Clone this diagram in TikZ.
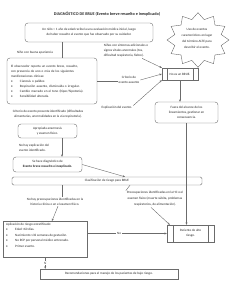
\documentclass[tikz,border=0pt]{standalone}
\usepackage{fontspec}
\setmainfont{Carlito}
\usetikzlibrary{arrows.meta}
\definecolor{linec}{gray}{0.42}
\newcommand{\fnt}{\fontsize{3.3}{5}\selectfont}
\newcommand{\bul}{\makebox[9pt][l]{\textbullet}}
\begin{document}
\begin{tikzpicture}[x=1pt,y=-1pt,
 every node/.style={font=\fnt, inner sep=0.8pt, text=black!85},
 rbox/.style={draw=linec, rounded corners=3pt, align=center, line width=0.4pt},
 sbox/.style={draw=linec, align=center, line width=0.4pt},
 lbl/.style={align=center},
 con/.style={draw=linec, line width=0.4pt},
 arr/.style={con, -{Stealth[length=2.4pt,width=2pt]}}]
\useasboundingbox (0,0) rectangle (233,300);
\coordinate (x62) at (62,0);
\coordinate (xa) at (125,0);
\coordinate (xb) at (52,0);
\coordinate (xc) at (130,0);
% title
\node[font=\fontsize{4.2}{5}\selectfont\bfseries] (title) at (107,14) {DIAGNÓSTICO DE BRUE (Evento breve resuelto e inexplicado)};
% box 1
\node[rbox, minimum width=128, minimum height=19] (b1) at (89,32.5) {Un niño < 1 año de edad recibe la una evaluación médica inicial, luego\\de haber resuelto el evento que fue observado por su cuidador.};
% star
\draw[con] plot[samples at={0,...,23}, variable=\t] ({198+(27.5+3.5*cos(180*\t))*cos(90+15*\t)}, {40+0.88*(27.5+3.5*cos(180*\t))*sin(90+15*\t)}) -- cycle;
\node[lbl, font=\fontsize{3.3}{6}\selectfont] (star) at (197,38.5) {Uso de eventos\\característicos en lugar\\del término ALTE para\\describir el evento.};
% labels top
\node[lbl] (nbuena) at (35,53) {Niño con buena apariencia};
\node[lbl, align=left] (nsint) at (126,51) {Niños con síntomas adicionales o\\signos vitales anormales (tos,\\dificultad respiratoria, fiebre).};
% box 2
\node[rbox, align=left, text width=82pt, inner xsep=4pt, minimum height=46] (b2) at (52,81) {El observador reporta un evento breve, resuelto,\\con presencia de uno o más de los siguientes\\manifestaciones clínicas:\\
\bul Cianosis o palidez.\\
\bul Respiración ausente, disminuida o irregular.\\
\bul Cambio marcado en el tono (hiper/hipotonía).\\
\bul Sensibilidad alterada.};
\draw[con] (b1.south -| x62) -- (b2.north -| x62);
% no es un BRUE
\node[sbox, minimum width=36, minimum height=12] (nob) at (180,74) {No es un BRUE.};
\node[lbl] (aus) at (129,80) {Criterio de\\evento ausente};
\node[lbl] (expl) at (117,108) {Explicación del evento.};
\draw[con] (b2.east) -- (b2.east -| aus.west);
\draw[arr] ([xshift=-7pt]nsint.south east) -- (nob.north west);
\draw[arr] (aus.east) -- (nob.west);
\draw[arr] (expl.north east) -- (nob.south west);
% fuera
\node[rbox, minimum width=63, minimum height=21] (fuera) at (186.5,112.5) {Fuera del alcance de los\\lineamientos, gestionar en\\consecuencia.};
\draw[arr] (nob.south) -- (nob.south |- fuera.north);
% presente
\node[lbl] (pres) at (48,114.5) {Criterio de evento presente identificado (dificultades\\alimentarias, anormalidades en la vía respiratoria).};
\node[rbox, minimum width=59, minimum height=14] (apro) at (47.5,131) {Apropiada anamnesis\\y examen físico.};
\node[lbl, align=left] (noexp) at (34,147.5) {No hay explicación del\\evento identificado.};
\node[rbox, minimum width=69, minimum height=15] (se) at (47.5,164.5) {Se hace diagnóstico de\\\textbf{Evento breve resuelto e inexplicado.}};
\draw[arr] (apro.south -| x62) -- (se.north -| x62);
% clasificacion
\node[rbox, rounded corners=1.5pt, minimum width=190, minimum height=8] (clas) at (107,181) {Clasificación de riesgo para BRUE};
\draw[arr] (se.east) -- (clas.north -| xa);
% paciente alto riesgo
\node[sbox, minimum width=47, minimum height=17] (pac) at (190.5,233.5) {Paciente de alto\\riesgo.};
\draw[arr] (fuera.south) -- (fuera.south |- pac.north);
\node[lbl] (nopre) at (55,201.5) {No hay preocupaciones identificadas en la\\historia clínica o en el examen físico.};
\node[lbl, font=\fontsize{3.3}{6}\selectfont] (pre) at (155,199) {Preocupaciones identificadas en la HC o el\\examen físico (muerte súbita, problemas\\respiratorios, de alimentación).};
\draw[con] (clas.south -| x62) -- (nopre.north -| x62);
\draw[con] (clas.south -| xc) -- (pre.north west);
% aplicacion
\node[sbox, minimum width=84, minimum height=36, anchor=north west] (apl) at (3,221) {};
\node[anchor=north west, align=left, inner sep=0pt, font=\fontsize{3.3}{5.5}\selectfont] (aplt) at (6,223) {Aplicación de riesgo estratificado:\\
\bul Edad <60 días.\\
\bul Nacimiento ≤32 semanas de gestación.\\
\bul No RCP por personal médico entrenado.\\
\bul Primer evento.};
\draw[arr] ([xshift=3pt]nopre.south) -- (apl.north -| xb);
\draw[arr] ([xshift=-4pt]pre.south) -- ([xshift=3pt]pac.north west);
\draw[arr] (apl.east |- pac.west) -- node[fill=white, pos=0.4, inner sep=1pt] {No} (pac.west);
% recomendaciones
\node[sbox, minimum width=138, minimum height=10] (rec) at (109,274) {Recomendaciones para el manejo de los pacientes de bajo riesgo.};
\draw[arr] (apl.south) -- node[fill=white, inner sep=0.5pt] {Sí} (apl.south |- rec.north);
% predefined process side lines
\foreach \n/\d in {nob/5pt, pac/6pt} {
  \draw[con] ([xshift=\d]\n.north west) -- ([xshift=\d]\n.south west);
  \draw[con] ([xshift=-\d]\n.north east) -- ([xshift=-\d]\n.south east);
}
\end{tikzpicture}
\end{document}
